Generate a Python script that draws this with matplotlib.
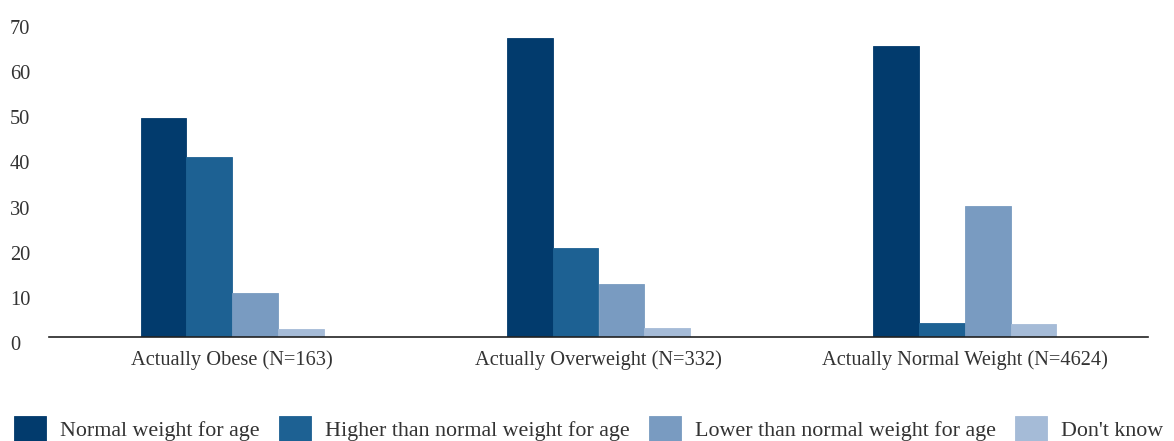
import numpy as np
import matplotlib
matplotlib.use("Agg")
import matplotlib.pyplot as plt
from matplotlib.transforms import ScaledTranslation

# perceived vs actual weight status (% of group)
categories = ["Actually Obese (N=163)", "Actually Overweight (N=332)",
              "Actually Normal Weight (N=4624)"]
series_names = ["Normal weight for age", "Higher than normal weight for age",
                "Lower than normal weight for age", "Don't know"]
normal_weight = [48.6, 66.3, 64.5]
higher_weight = [39.9, 19.7, 3.1]
lower_weight = [9.8, 11.8, 29.0]
dont_know = [1.8, 2.0, 2.9]
yticks = [0, 10, 20, 30, 40, 50, 60, 70]

colors = ["#023b6d", "#1d6193", "#799bc1", "#a5bbd7"]
text_color = "#333333"

plt.rcParams["font.family"] = ["Liberation Serif"]
fs = 14.7
legend_fs = 15.8

fig = plt.figure(figsize=(11.74, 4.41), dpi=100)
ax = fig.add_axes([49 / 1174, 104 / 441, 1099 / 1174, 316 / 441])

x = np.arange(len(categories))
w = 0.125
all_series = [normal_weight, higher_weight, lower_weight, dont_know]
for i, (vals, name) in enumerate(zip(all_series, series_names)):
    ax.bar(x + (i - 1.5) * w, vals, width=w, color=colors[i], label=name,
           linewidth=0.6, edgecolor=colors[i])

ax.set_xlim(-0.5, 2.5)
ax.set_ylim(0, 70)
ax.set_yticks(yticks)
ax.set_xticks(x)
ax.set_xticklabels(categories)

for s in ["top", "right", "left"]:
    ax.spines[s].set_visible(False)
ax.spines["bottom"].set_color("#222222")
ax.spines["bottom"].set_linewidth(1.2)
ax.tick_params(axis="both", length=0, labelsize=fs, colors=text_color)
ax.tick_params(axis="x", pad=9.5)
ax.tick_params(axis="y", pad=28)
shift = ScaledTranslation(0, -6 / 100, fig.dpi_scale_trans)
for lbl in ax.get_yticklabels():
    lbl.set_horizontalalignment("left")
    lbl.set_transform(lbl.get_transform() + shift)

fig.legend(loc="center left", bbox_to_anchor=(14 / 1174, 12 / 441), ncol=4,
           frameon=False, fontsize=legend_fs, labelcolor=text_color,
           handlelength=1.46, handleheight=1.45, handletextpad=0.64,
           columnspacing=0.87, borderaxespad=0, borderpad=0)

fig.savefig("out.png", dpi=100)
